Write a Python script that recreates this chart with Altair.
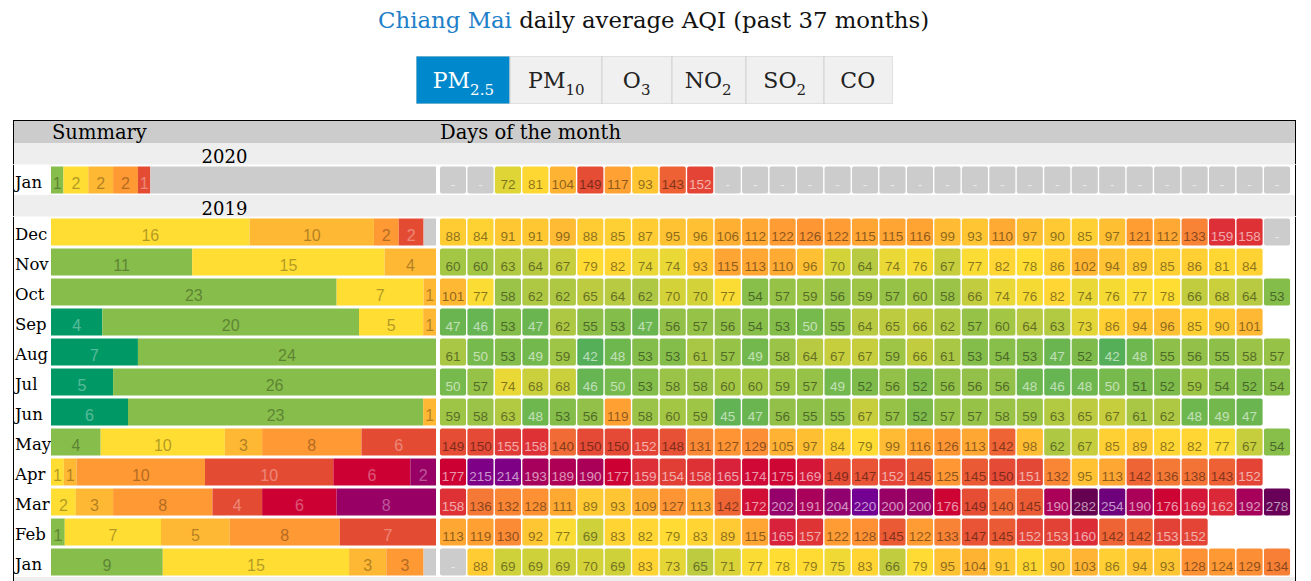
import altair as alt
import pandas as pd

# ---------------- data ----------------
CITY = "Chiang Mai"
TITLE_REST = "daily average AQI (past 37 months)"
TAB_MAIN = ["PM", "PM", "O", "NO", "SO", "CO"]
TAB_SUB = ["2.5", "10", "3", "2", "2", ""]
ACTIVE_TAB = 0
HEAD_SUMMARY = "Summary"
HEAD_DAYS = "Days of the month"

YEAR_LABELS = ["2020", "2019", "2018"]
MONTHS_2020 = ["Jan"]
MONTHS_2019 = ["Dec", "Nov", "Oct", "Sep", "Aug", "Jul", "Jun", "May", "Apr", "Mar", "Feb", "Jan"]

# daily average AQI (None = no data)
JAN_2020 = [None, None, 72, 81, 104, 149, 117, 93, 143, 152,
            None, None, None, None, None, None, None, None, None, None,
            None, None, None, None, None, None, None, None, None, None, None]
DEC_2019 = [88, 84, 91, 91, 99, 88, 85, 87, 95, 96, 106, 112, 122, 126, 122, 115, 115, 116, 99, 93,
            110, 97, 90, 85, 97, 121, 112, 133, 159, 158, None]
NOV_2019 = [60, 60, 63, 64, 67, 79, 82, 74, 74, 93, 115, 113, 110, 96, 70, 64, 74, 76, 67, 77,
            82, 78, 86, 102, 94, 89, 85, 86, 81, 84]
OCT_2019 = [101, 77, 58, 62, 62, 65, 64, 62, 70, 70, 77, 54, 57, 59, 56, 59, 57, 60, 58, 66,
            74, 76, 82, 74, 76, 77, 78, 66, 68, 64, 53]
SEP_2019 = [47, 46, 53, 47, 62, 55, 53, 47, 56, 57, 56, 54, 53, 50, 55, 64, 65, 66, 62, 57,
            60, 64, 63, 73, 86, 94, 96, 85, 90, 101]
AUG_2019 = [61, 50, 53, 49, 59, 42, 48, 53, 53, 61, 57, 49, 58, 64, 67, 67, 59, 66, 61, 53,
            54, 53, 47, 52, 42, 48, 55, 56, 55, 58, 57]
JUL_2019 = [50, 57, 74, 68, 68, 46, 50, 53, 58, 58, 60, 60, 59, 57, 49, 52, 56, 52, 56, 56,
            56, 48, 46, 48, 50, 51, 52, 59, 54, 52, 54]
JUN_2019 = [59, 58, 63, 48, 53, 56, 119, 58, 60, 59, 45, 47, 56, 55, 55, 67, 57, 52, 57, 57,
            58, 59, 63, 65, 67, 61, 62, 48, 49, 47]
MAY_2019 = [149, 150, 155, 158, 140, 150, 150, 152, 148, 131, 127, 129, 105, 97, 84, 79, 99, 116, 126, 113,
            142, 98, 62, 67, 85, 89, 82, 82, 77, 67, 54]
APR_2019 = [177, 215, 214, 193, 189, 190, 177, 159, 154, 158, 165, 174, 175, 169, 149, 147, 152, 145, 125, 145,
            150, 151, 132, 95, 113, 142, 136, 138, 143, 152]
MAR_2019 = [158, 136, 132, 128, 111, 89, 93, 109, 127, 113, 142, 172, 202, 191, 204, 220, 200, 200, 176, 149,
            140, 145, 190, 282, 254, 190, 176, 169, 162, 192, 278]
FEB_2019 = [113, 119, 130, 92, 77, 69, 83, 82, 79, 83, 89, 115, 165, 157, 122, 128, 145, 122, 133, 147,
            145, 152, 153, 160, 142, 142, 153, 152]
JAN_2019 = [None, 88, 69, 69, 69, 70, 69, 83, 73, 65, 71, 77, 78, 79, 75, 83, 66, 79, 95, 104,
            91, 81, 90, 103, 86, 94, 93, 128, 124, 129, 134]

# summary: number of days per AQI level (8 levels, low -> high)
LEVELS = ["L1", "L2", "L3", "L4", "L5", "L6", "L7", "L8"]
SUM_JAN_2020 = [0, 1, 2, 2, 2, 1, 0, 0]
SUM_DEC_2019 = [0, 0, 16, 10, 2, 2, 0, 0]
SUM_NOV_2019 = [0, 11, 15, 4, 0, 0, 0, 0]
SUM_OCT_2019 = [0, 23, 7, 1, 0, 0, 0, 0]
SUM_SEP_2019 = [4, 20, 5, 1, 0, 0, 0, 0]
SUM_AUG_2019 = [7, 24, 0, 0, 0, 0, 0, 0]
SUM_JUL_2019 = [5, 26, 0, 0, 0, 0, 0, 0]
SUM_JUN_2019 = [6, 23, 0, 1, 0, 0, 0, 0]
SUM_MAY_2019 = [0, 4, 10, 3, 8, 6, 0, 0]
SUM_APR_2019 = [0, 0, 1, 1, 10, 10, 6, 2]
SUM_MAR_2019 = [0, 0, 2, 3, 8, 4, 6, 8]
SUM_FEB_2019 = [0, 1, 7, 5, 8, 7, 0, 0]
SUM_JAN_2019 = [0, 9, 15, 3, 3, 0, 0, 0]

# ---------------- styles ----------------
LEVEL_COLORS = ["#009966", "#87bd4b", "#ffdd33", "#ffb833", "#ff9933", "#e44b33", "#cc0033", "#990066"]
LEVEL_TONE = ["light", "dark", "dark", "dark", "dark", "light", "light", "light"]
MISSING_COLOR = "#cccccc"
AQI_STOPS = [40, 45, 50, 55, 60, 65, 70, 75, 78, 85, 95, 102, 110, 120, 127, 135, 142, 150, 158, 166,
             177, 190, 200, 220, 254, 282]
AQI_COLORS = ["#4dac5c", "#62b353", "#76b94c", "#8dbf49", "#a4c645", "#bccb40", "#d4d239", "#f0d935",
              "#ffdd33", "#ffd033", "#ffc233", "#ffb633", "#ffaa33", "#ff9f33", "#fe9434", "#f67d36",
              "#ee6434", "#e44a35", "#de3136", "#d71f3a", "#cc0033", "#ab0058", "#990066", "#730092",
              "#6e007c", "#660050"]
SERIF = "DejaVu Serif, serif"
NUM_FONT = "Liberation Sans, Arial, Helvetica, sans-serif"
BLUE = "#1e80c8"

W_LAB, W_SUM, W_DAY = 38, 385, 860
W_LEFT = W_LAB + W_SUM
W_ALL = W_LEFT + W_DAY
ROW = 30
HEAD_H = 23
YEAR_H = 21.5
TAB_W = [94, 92, 70, 74, 78, 69]
TAB_H = 48
SERIF_EM = {"P": 0.733, "M": 0.995, "O": 0.787, "N": 0.837, "S": 0.685, "C": 0.734, ".": 0.318}


def em(s):
    return sum(SERIF_EM.get(c, 0.636) for c in s)


ONE = pd.DataFrame({"k": [0]})


def vrule(x, h):
    return alt.Chart(ONE).mark_rule(color="black", strokeWidth=1, clip=True).encode(
        x=alt.value(x), y=alt.value(0), y2=alt.value(h))


def hrule(y, w):
    return alt.Chart(ONE).mark_rule(color="black", strokeWidth=1, clip=True).encode(
        y=alt.value(y), x=alt.value(0), x2=alt.value(w))


def bg(fill):
    return alt.ViewBackground(fill=fill, stroke=None)


# ---------------- title ----------------
T_FS = 22.8
title_total = 24.087 * T_FS
title_split = W_ALL / 2 - title_total / 2 + 5.788 * T_FS
title = alt.layer(
    alt.Chart(pd.DataFrame({"t": [CITY]})).mark_text(
        font=SERIF, fontSize=T_FS, align="right", baseline="alphabetic", color=BLUE, clip=True
    ).encode(text="t:N", x=alt.value(title_split), y=alt.value(19.5)),
    alt.Chart(pd.DataFrame({"t": [TITLE_REST]})).mark_text(
        font=SERIF, fontSize=T_FS, align="left", baseline="alphabetic", color="#111111", clip=True
    ).encode(text="t:N", x=alt.value(title_split + 0.318 * T_FS), y=alt.value(19.5)),
).properties(width=W_ALL, height=36, view=bg("white"))

# ---------------- tabs ----------------
x0s, x1s, splits = [], [], []
acc = 0
for m, s, w in zip(TAB_MAIN, TAB_SUB, TAB_W):
    x0s.append(acc)
    x1s.append(acc + w)
    splits.append(acc + (w + em(m) * 22 - em(s) * 15) / 2)
    acc += w
tabs_df = pd.DataFrame({
    "x0": x0s, "x1": x1s, "split": splits, "main": TAB_MAIN, "sub": TAB_SUB,
    "active": [i == ACTIVE_TAB for i in range(len(TAB_MAIN))],
})
tx = alt.Scale(domain=[0, acc], nice=False, zero=False)
tabs_base = alt.Chart(tabs_df)
act = "datum.active"
tabs = alt.layer(
    tabs_base.mark_rect(stroke="#d2d2d2", strokeWidth=1, clip=True).encode(
        x=alt.X("x0:Q", scale=tx, axis=None), x2="x1:Q",
        y=alt.value(0), y2=alt.value(TAB_H),
        color=alt.condition(act, alt.value("#0088cc"), alt.value("#f0f0f0"))),
    tabs_base.mark_text(font=SERIF, fontSize=22, align="right", baseline="alphabetic", clip=True).encode(
        x=alt.X("split:Q", scale=tx, axis=None), y=alt.value(32), text="main:N",
        color=alt.condition(act, alt.value("white"), alt.value("#222222"))),
    tabs_base.mark_text(font=SERIF, fontSize=15, align="left", baseline="alphabetic", clip=True).encode(
        x=alt.X("split:Q", scale=tx, axis=None), y=alt.value(39), text="sub:N",
        color=alt.condition(act, alt.value("white"), alt.value("#222222"))),
).properties(width=acc, height=TAB_H, view=bg("white"))

header_block = alt.vconcat(title, tabs, spacing=12, center=True, bounds="flush")

# ---------------- table ----------------
def head_section():
    left = alt.layer(
        alt.Chart(pd.DataFrame({"t": [HEAD_SUMMARY]})).mark_text(
            font=SERIF, fontSize=19.5, align="left", baseline="alphabetic", color="black", clip=True
        ).encode(text="t:N", x=alt.value(W_LAB + 1), y=alt.value(19.3)),
        vrule(0.5, HEAD_H), hrule(0.5, W_LEFT),
    ).properties(width=W_LEFT, height=HEAD_H, view=bg("#cccccc"))
    right = alt.layer(
        alt.Chart(pd.DataFrame({"t": [HEAD_DAYS]})).mark_text(
            font=SERIF, fontSize=19.5, align="left", baseline="alphabetic", color="black", clip=True
        ).encode(text="t:N", x=alt.value(4), y=alt.value(19.3)),
        vrule(W_DAY - 0.5, HEAD_H), hrule(0.5, W_DAY),
    ).properties(width=W_DAY, height=HEAD_H, view=bg("#cccccc"))
    return alt.hconcat(left, right, spacing=0, bounds="flush")


def year_section(label):
    left = alt.layer(
        alt.Chart(pd.DataFrame({"t": [label]})).mark_text(
            font=SERIF, fontSize=18, align="center", baseline="alphabetic", color="black", clip=True
        ).encode(text="t:N", x=alt.value(W_LEFT / 2), y=alt.value(20)),
        vrule(0.5, YEAR_H),
    ).properties(width=W_LEFT, height=YEAR_H, view=bg("#eeeeee"))
    right = alt.layer(vrule(W_DAY - 0.5, YEAR_H)).properties(
        width=W_DAY, height=YEAR_H, view=bg("#eeeeee"))
    return alt.hconcat(left, right, spacing=0, bounds="flush")


def month_section(months, daily, summary):
    H = ROW * len(months)
    ym = alt.Y("m:N", scale=alt.Scale(domain=months, paddingInner=0.1, paddingOuter=0.05), axis=None)

    cells, segs = [], []
    for m, vals, counts in zip(months, daily, summary):
        for d, v in enumerate(vals, start=1):
            if v is None:
                cells.append({"m": m, "day": d, "v": None, "lab": "-", "tone": "light", "has": False})
            else:
                tone = "light" if (v <= 50 or v >= 151) else "dark"
                cells.append({"m": m, "day": d, "v": v, "lab": str(v), "tone": tone, "has": True})
        n = len(vals)
        cum = 0
        for lvl, c, tone in zip(LEVELS, counts, LEVEL_TONE):
            if c > 0:
                segs.append({"m": m, "lvl": lvl, "n": c, "x0": cum / n, "x1": (cum + c) / n,
                             "xm": (cum + c / 2) / n, "tone": tone})
                cum += c
        if cum < n:
            segs.append({"m": m, "lvl": "none", "n": n - cum, "x0": cum / n, "x1": 1.0,
                         "xm": (cum + n) / 2 / n, "tone": "none"})
    cdf = pd.DataFrame(cells)
    sdf = pd.DataFrame(segs)

    light = "datum.tone == 'light'"

    labels = alt.layer(
        alt.Chart(pd.DataFrame({"m": months})).mark_text(
            font=SERIF, fontSize=16.5, align="left", baseline="alphabetic", dy=8, color="black", clip=True
        ).encode(x=alt.value(2), y=ym, text="m:N"),
        vrule(0.5, H),
    ).properties(width=W_LAB, height=H, view=bg("white"))

    xs = alt.Scale(domain=[0, 1], nice=False, zero=False)
    summ = alt.layer(
        alt.Chart(sdf).mark_rect(clip=True).encode(
            x=alt.X("x0:Q", scale=xs, axis=None), x2="x1:Q", y=ym,
            color=alt.Color("lvl:N", scale=alt.Scale(domain=LEVELS + ["none"],
                                                     range=LEVEL_COLORS + [MISSING_COLOR]),
                            legend=None)),
        alt.Chart(sdf[sdf["lvl"] != "none"]).mark_text(
            font=NUM_FONT, fontSize=16, baseline="alphabetic", dy=9, clip=True
        ).encode(
            x=alt.X("xm:Q", scale=xs, axis=None), y=ym, text="n:Q",
            color=alt.condition(light, alt.value("white"), alt.value("black")),
            opacity=alt.condition(light, alt.value(0.33), alt.value(0.3))),
    ).properties(width=W_SUM, height=H, view=bg("white"))

    xd = alt.X("day:O", scale=alt.Scale(domain=list(range(1, 32)), paddingInner=0.05,
                                        paddingOuter=0.18, align=0.4), axis=None)
    days = alt.layer(
        alt.Chart(cdf[cdf["has"]]).mark_rect(cornerRadius=2, clip=True).encode(
            x=xd, y=ym,
            color=alt.Color("v:Q", scale=alt.Scale(domain=AQI_STOPS, range=AQI_COLORS,
                                                   interpolate="rgb"), legend=None)),
        alt.Chart(cdf[~cdf["has"]]).mark_rect(cornerRadius=2, color=MISSING_COLOR, clip=True).encode(
            x=xd, y=ym),
        alt.Chart(cdf).mark_text(font=NUM_FONT, fontSize=13.5, baseline="alphabetic", dy=9,
                                 clip=True).encode(
            x=xd, y=ym, text="lab:N",
            color=alt.condition(light, alt.value("white"), alt.value("black")),
            opacity=alt.condition(light, alt.value(0.58), alt.value(0.45))),
        vrule(W_DAY - 0.5, H),
    ).properties(width=W_DAY, height=H, view=bg("white"))

    return alt.hconcat(labels, summ, days, spacing=0, bounds="flush").resolve_scale(
        x="independent", y="independent", color="independent")


table = alt.vconcat(
    head_section(),
    year_section(YEAR_LABELS[0]),
    month_section(MONTHS_2020, [JAN_2020], [SUM_JAN_2020]),
    year_section(YEAR_LABELS[1]),
    month_section(MONTHS_2019,
                  [DEC_2019, NOV_2019, OCT_2019, SEP_2019, AUG_2019, JUL_2019,
                   JUN_2019, MAY_2019, APR_2019, MAR_2019, FEB_2019, JAN_2019],
                  [SUM_DEC_2019, SUM_NOV_2019, SUM_OCT_2019, SUM_SEP_2019, SUM_AUG_2019, SUM_JUL_2019,
                   SUM_JUN_2019, SUM_MAY_2019, SUM_APR_2019, SUM_MAR_2019, SUM_FEB_2019, SUM_JAN_2019]),
    year_section(YEAR_LABELS[2]),
    spacing=0,
).resolve_scale(x="independent", y="independent", color="independent")

chart = alt.vconcat(header_block, table, spacing=16, center=True).resolve_scale(
    x="independent", y="independent", color="independent"
).properties(
    padding={"left": 5, "top": 0, "right": 5, "bottom": 5}, background="white"
).configure_view(stroke=None)

chart.save("out.html", embed_options={"renderer": "svg", "actions": False})
